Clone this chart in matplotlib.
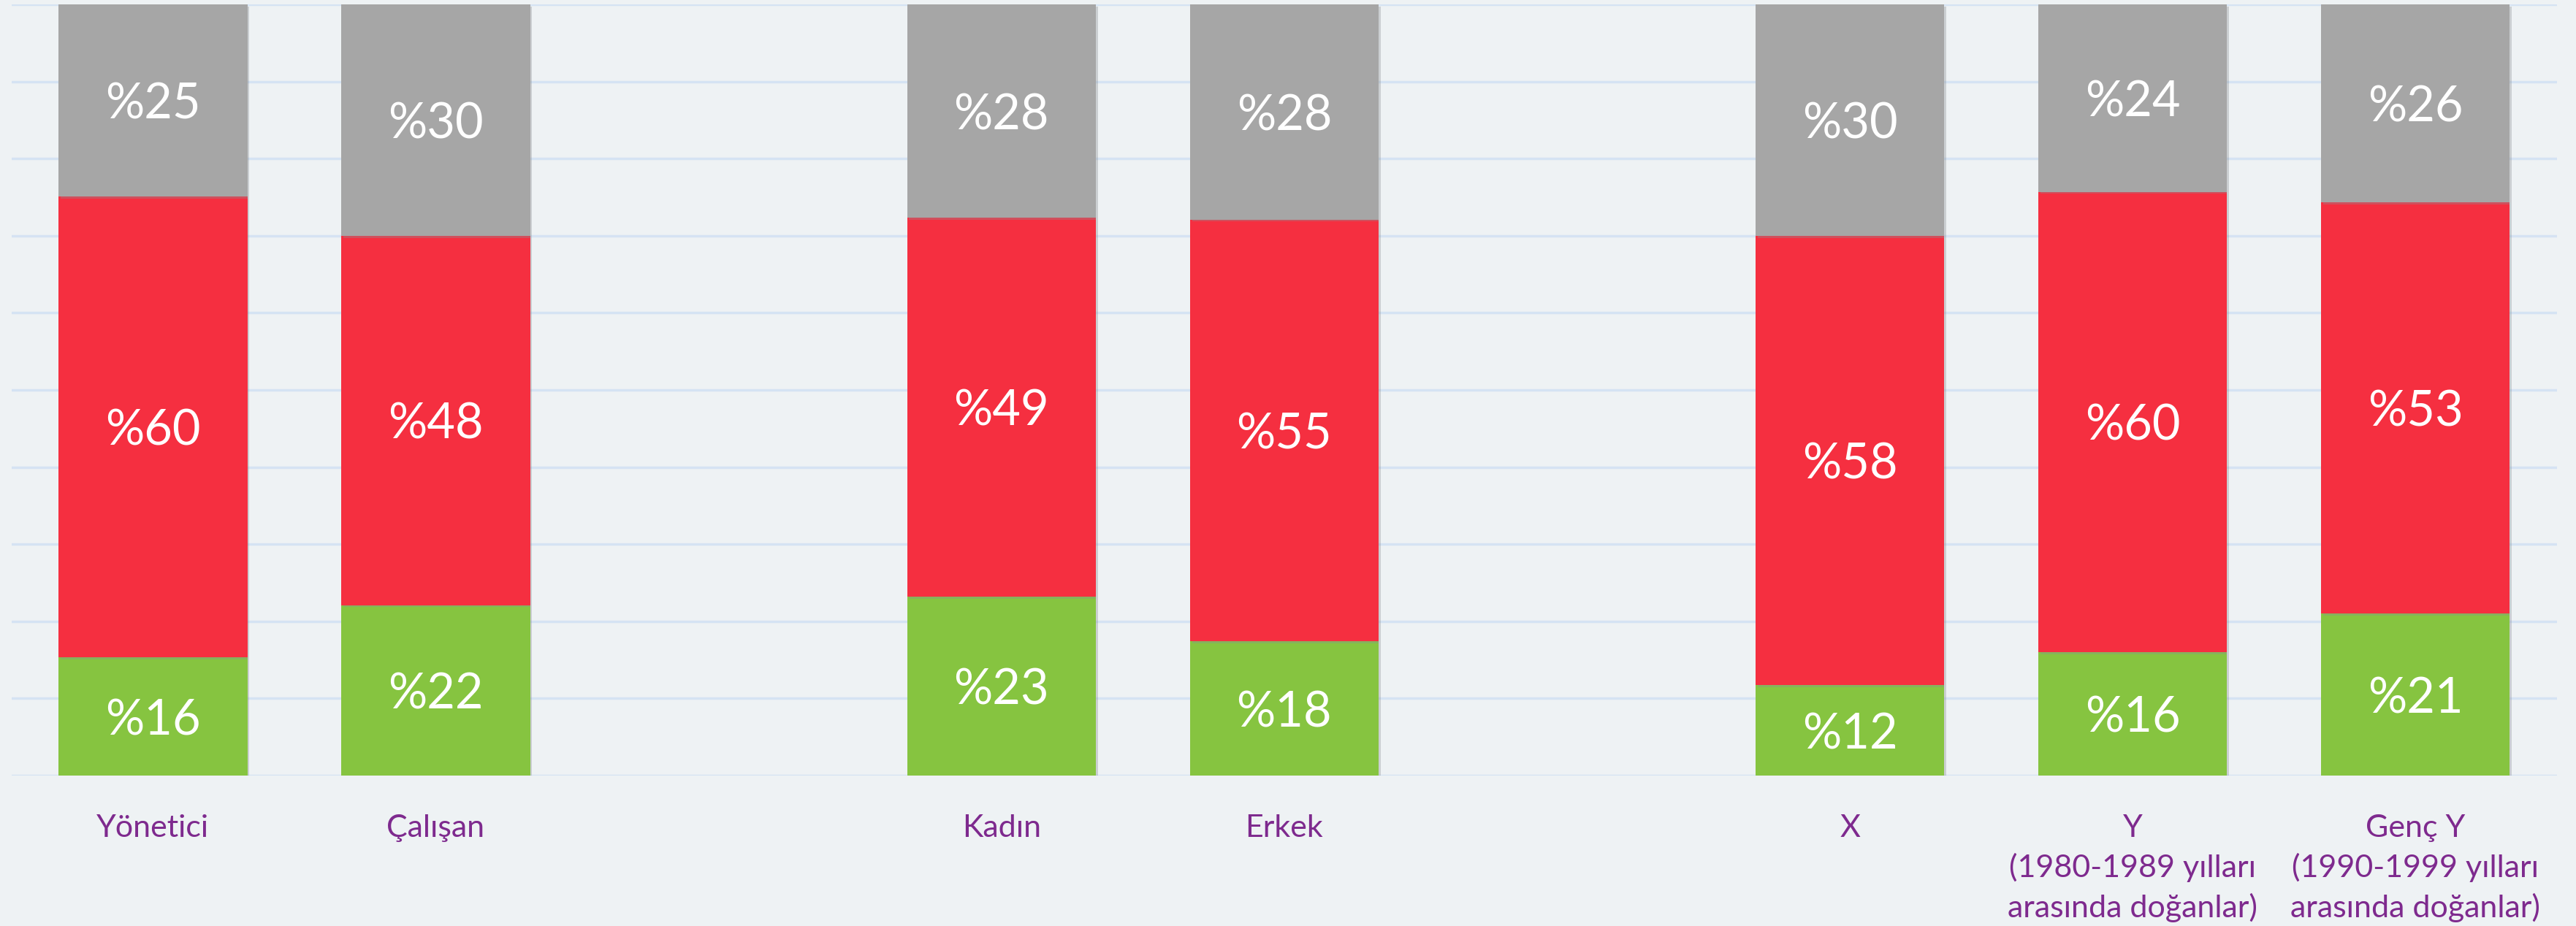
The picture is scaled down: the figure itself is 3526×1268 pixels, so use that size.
import numpy as np
import matplotlib.pyplot as plt
import matplotlib.patheffects as pe

# kategoriler (bos slotlar gruplar arasi bosluk icin)
kategoriler = ["Yönetici", "Çalışan", "", "Kadın", "Erkek", "",
               "X", "Y\n(1980-1989 yılları\narasında doğanlar)",
               "Genç Y\n(1990-1999 yılları\narasında doğanlar)"]
pozisyonlar = [0, 1, 3, 4, 6, 7, 8]
etiketler = [k for k in kategoriler if k]

yesil = [15.3, 22.1, 23.2, 17.4, 11.7, 16.0, 21.0]
kirmizi = [59.8, 47.9, 49.1, 54.7, 58.3, 59.7, 53.3]
gri = [24.9, 30.0, 27.7, 27.9, 30.0, 24.3, 25.7]

yesil_etiket = ["%16", "%22", "%23", "%18", "%12", "%16", "%21"]
kirmizi_etiket = ["%60", "%48", "%49", "%55", "%58", "%60", "%53"]
gri_etiket = ["%25", "%30", "%28", "%28", "%30", "%24", "%26"]

renkler = {"yesil": "#86C440", "kirmizi": "#F52F40", "gri": "#A6A6A6"}
tlo = "#EEF2F4"

plt.rcParams['font.family'] = ['Lato', 'DejaVu Sans']

fig = plt.figure(figsize=(35.26, 12.68), dpi=100, facecolor=tlo)
ax = fig.add_axes([0.0045, 0.1625, 0.9881, 0.8328])
ax.set_facecolor(tlo)

cien = [pe.SimplePatchShadow(offset=(2, -2), shadow_rgbFace="#8a8f94", alpha=0.35),
        pe.Normal()]

x = np.array(pozisyonlar)
dol = np.zeros(len(x))
for wart, nazwa, lab in [(yesil, "yesil", yesil_etiket),
                         (kirmizi, "kirmizi", kirmizi_etiket),
                         (gri, "gri", gri_etiket)]:
    wart = np.array(wart)
    bary = ax.bar(x, wart, bottom=dol, width=0.667, color=renkler[nazwa],
                  edgecolor="none", zorder=3)
    for b, t in zip(bary, lab):
        b.set_path_effects(cien)
        ax.text(b.get_x() + b.get_width() / 2, b.get_y() + b.get_height() / 2, t,
                ha="center", va="center_baseline", color="white", fontsize=48,
                zorder=4)
    dol = dol + wart

ax.set_xlim(-0.5, 8.5)
ax.set_ylim(0, 100)
ax.set_yticks(np.arange(0, 101, 10))
ax.set_yticklabels([])
ax.grid(axis="y", color="#D5E3F3", linewidth=2.5, zorder=0)
ax.set_xticks(pozisyonlar)
ax.set_xticklabels(etiketler, color="#7E2A8E", fontsize=31, va="top",
                   linespacing=1.45)
ax.tick_params(axis="both", length=0, pad=38)
for s in ax.spines.values():
    s.set_visible(False)

fig.savefig("out.png", dpi=100, facecolor=tlo)
plt.close()
